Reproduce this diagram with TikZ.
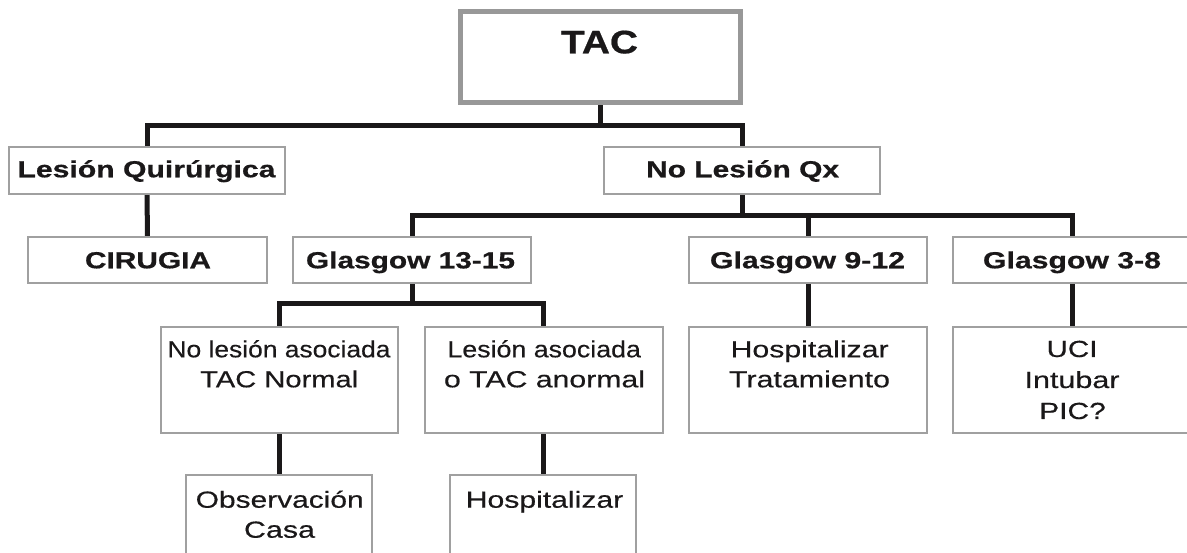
\documentclass[tikz,border=0pt]{standalone}
\usepackage{fontspec}
\setmainfont{Liberation Sans}[UprightFeatures={FakeBold=0.35}, BoldFeatures={FakeBold=0.6}]
\usepackage{graphicx}
\usetikzlibrary{backgrounds}
\definecolor{boxgray}{HTML}{A0A0A0}
\definecolor{tacgray}{HTML}{989898}
\definecolor{ink}{HTML}{1A1819}
\newcommand{\fw}[2]{\resizebox{#1pt}{\height}{#2}}
\begin{document}
\begin{tikzpicture}[x=1pt,y=-1pt,
  box/.style={draw=boxgray, line width=2pt, fill=white, inner sep=0pt},
  tacbox/.style={draw=tacgray, line width=5.5pt, fill=white, inner sep=0pt, minimum width=280pt, minimum height=91pt},
  rowbox/.style={box, minimum width=238pt, minimum height=46pt},
  tallbox/.style={box, minimum width=238pt, minimum height=106.5pt},
  lowbox/.style={box, minimum width=186pt, minimum height=100pt},
  conn/.style={draw=ink, line width=5pt},
  bt/.style={font=\bfseries\fontsize{23.3}{28}\selectfont, text=ink, inner sep=0pt, anchor=base},
  rt/.style={font=\fontsize{23.3}{28}\selectfont, text=ink, inner sep=0pt, anchor=base},
  tact/.style={font=\bfseries\fontsize{32.5}{38}\selectfont, text=ink, inner sep=0pt, anchor=base}]
\useasboundingbox (0,0) rectangle (1187,553);
\clip (0,0) rectangle (1187,553);

% boxes
\node[tacbox] (tac) at (600.4,57.2) {};
\node[box, minimum width=275.5pt, minimum height=46.5pt] (lq) at (147,170.3) {};
\node[box, minimum width=276pt, minimum height=46.5pt] (nlq) at (742.3,170.3) {};
\node[rowbox, minimum width=239pt] (cir) at (147.5,260.2) {};
\node[rowbox] (g1315) at (412,260.2) {};
\node[rowbox] (g912) at (808,260.2) {};
\node[rowbox] (g38) at (1072,260.2) {};
\node[tallbox, minimum width=237pt] (nla) at (279.5,380) {};
\node[tallbox] (la) at (543.5,380) {};
\node[tallbox] (ht) at (808,380) {};
\node[tallbox] (uci) at (1072,380) {};
\node[lowbox] (obs) at (278.5,525.3) {};
\node[lowbox] (hosp) at (543,525.3) {};

% texts
\node[tact] (ttac) at (599.5,53.3) {\fw{77}{TAC}};
\node[bt] (tlq) at (146.5,177.3) {\fw{258}{Lesión Quirúrgica}};
\node[bt] (tnlq) at (742.6,177.3) {\fw{193}{No Lesión Qx}};
\node[bt] (tcir) at (148,268.3) {\fw{126}{CIRUGIA}};
\node[bt] (tg1315) at (410.5,268.3) {\fw{209}{Glasgow 13-15}};
\node[bt] (tg912) at (807.5,268.3) {\fw{195}{Glasgow 9-12}};
\node[bt] (tg38) at (1072,268.3) {\fw{178}{Glasgow 3-8}};
\node[rt] (tnla1) at (279,357.3) {\fw{223}{No lesión asociada}};
\node[rt] (tnla2) at (279.2,387.3) {\fw{158}{TAC Normal}};
\node[rt] (tla1) at (544.2,357.3) {\fw{193.5}{Lesión asociada}};
\node[rt] (tla2) at (544.5,387.3) {\fw{201}{o TAC anormal}};
\node[rt] (tht1) at (809.6,357.3) {\fw{158}{Hospitalizar}};
\node[rt] (tht2) at (809.5,387.3) {\fw{161}{Tratamiento}};
\node[rt] (tuci1) at (1072,357) {\fw{51}{UCI}};
\node[rt] (tuci2) at (1072,388) {\fw{95}{Intubar}};
\node[rt] (tuci3) at (1072.5,419) {\fw{66.5}{PIC?}};
\node[rt] (tobs1) at (279.7,507.7) {\fw{168}{Observación}};
\node[rt] (tobs2) at (279.5,537.7) {\fw{71}{Casa}};
\node[rt] (thosp) at (544.5,507.7) {\fw{157.5}{Hospitalizar}};

% connectors
\coordinate (h1) at (0,126);
\coordinate (h2) at (0,215.5);
\coordinate (h3) at (0,304);
\begin{scope}[on background layer]
\draw[conn] (tac.south) -- (tac.south |- h1);
\draw[conn] (lq.north) -- (lq.north |- h1) -- (nlq.north |- h1) -- (nlq.north);
\draw[conn] (lq.south) -- (cir.north);
\draw[conn] (nlq.south) -- (nlq.south |- h2);
\draw[conn] (g1315.north) -- (g1315.north |- h2) -- (g38.north |- h2) -- (g38.north);
\draw[conn] (g912.north) -- (g912.north |- h2);
\draw[conn] (g1315.south) -- (g1315.south |- h3);
\draw[conn] (nla.north) -- (nla.north |- h3) -- (la.north |- h3) -- (la.north);
\draw[conn] (g912.south) -- (ht.north);
\draw[conn] (g38.south) -- (uci.north);
\draw[conn] (nla.south) -- (nla.south |- obs.north);
\draw[conn] (la.south) -- (la.south |- hosp.north);
\end{scope}
\end{tikzpicture}
\end{document}
